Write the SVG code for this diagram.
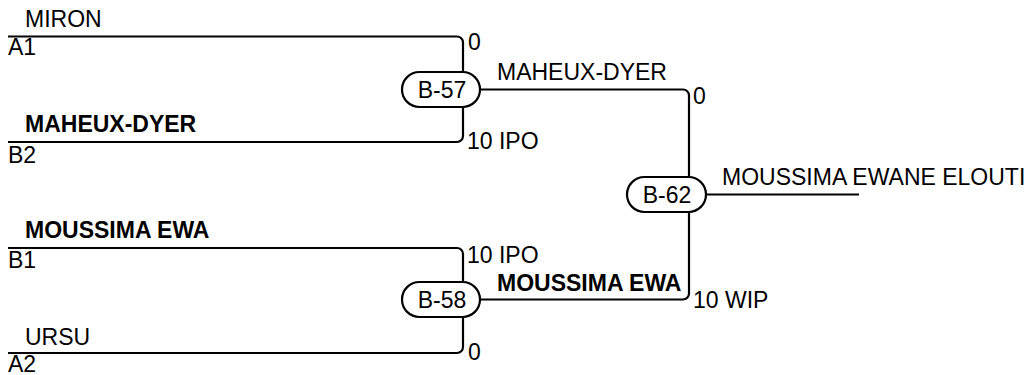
<svg xmlns="http://www.w3.org/2000/svg" width="1033" height="375" viewBox="0 0 1033 375">
<style>
text{font-family:"Liberation Sans",Arial,sans-serif;font-size:23px;fill:#000}
.b{font-weight:bold}
.m{text-anchor:middle}
.c{fill:none;stroke:#000;stroke-width:2.2}
.p{fill:#fff;stroke:#000;stroke-width:2.2}
</style>
<rect width="1033" height="375" fill="#fff"/>
<g id="connectors">
<path class="c" d="M8,36.5 H457 A6,6 0 0 1 463,42.5 V72"/>
<path class="c" d="M8,142 H457 A6,6 0 0 0 463,136 V107"/>
<path class="c" d="M8,248 H457 A6,6 0 0 1 463,254 V282"/>
<path class="c" d="M8,353 H457 A6,6 0 0 0 463,347 V317"/>
<path class="c" d="M480,89.5 H683 A6,6 0 0 1 689,95.5 V177"/>
<path class="c" d="M480,299.5 H683 A6,6 0 0 0 689,293.5 V212"/>
<path class="c" d="M706,194.5 H859"/>
</g>
<g id="entry-A1">
<text x="25" y="27">MIRON</text>
<text x="8" y="55">A1</text>
<text x="468" y="50">0</text>
</g>
<g id="entry-B2">
<text class="b" x="25" y="132">MAHEUX-DYER</text>
<text x="8" y="163">B2</text>
<text x="467" y="149">10 IPO</text>
</g>
<g id="entry-B1">
<text class="b" x="25" y="238">MOUSSIMA EWA</text>
<text x="8" y="268">B1</text>
<text x="467" y="263">10 IPO</text>
</g>
<g id="entry-A2">
<text x="25" y="345">URSU</text>
<text x="8" y="372">A2</text>
<text x="468" y="360">0</text>
</g>
<g id="match-B-57">
<rect class="p" x="402" y="72" width="78" height="35" rx="17.5"/>
<text class="m" x="442" y="97.5">B-57</text>
<text x="497" y="80">MAHEUX-DYER</text>
<text x="693" y="104">0</text>
</g>
<g id="match-B-58">
<rect class="p" x="402" y="282" width="78" height="35" rx="17.5"/>
<text class="m" x="442" y="307.5">B-58</text>
<text class="b" x="497" y="291">MOUSSIMA EWA</text>
<text x="693" y="308">10 WIP</text>
</g>
<g id="match-B-62">
<rect class="p" x="627" y="177" width="79" height="35" rx="17.5"/>
<text class="m" x="667" y="202.5">B-62</text>
<text x="722" y="185">MOUSSIMA EWANE ELOUTI</text>
</g>
</svg>
